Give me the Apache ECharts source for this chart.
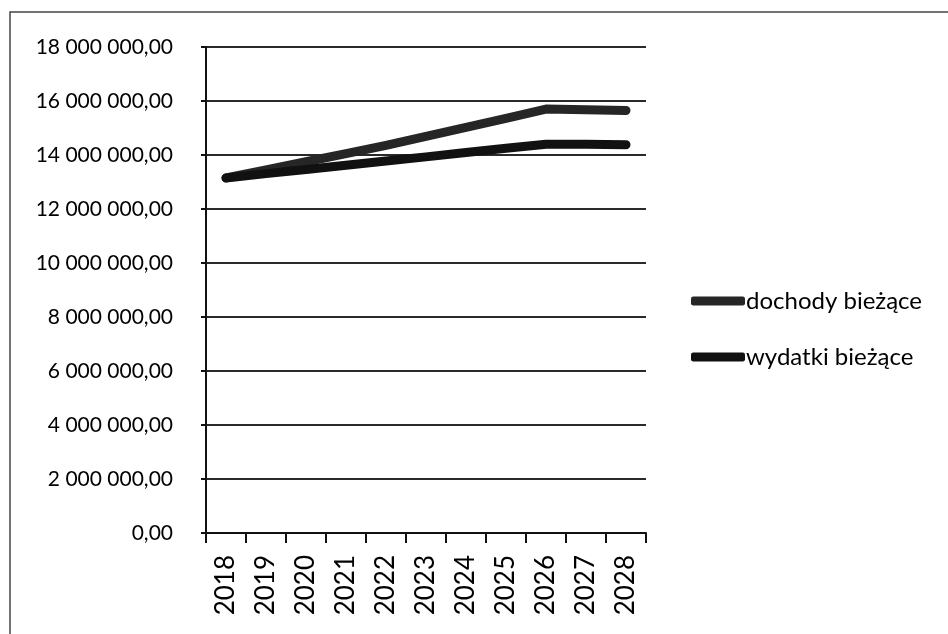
<!DOCTYPE html>
<html>
<head>
<meta charset="utf-8">
<script src="https://cdn.jsdelivr.net/npm/echarts@6/dist/echarts.min.js"></script>
<style>
  html, body { margin: 0; padding: 0; background: #fff; }
  #chart { width: 948px; height: 634px; }
</style>
</head>
<body>
<div id="chart"></div>
<script>
// Lata budżetowe
const years = ['2018', '2019', '2020', '2021', '2022', '2023', '2024', '2025', '2026', '2027', '2028'];

// Dochody bieżące (zł)
const dochody = [13150000, 13450000, 13750000, 14050000, 14360000, 14690000, 15020000, 15360000, 15700000, 15680000, 15650000];

// Wydatki bieżące (zł)
const wydatki = [13150000, 13310000, 13460000, 13620000, 13780000, 13930000, 14090000, 14250000, 14400000, 14400000, 14380000];

// Oś wartości
const yMin = 0;
const yMax = 18000000;
const yStep = 2000000;

const seriesNames = ['dochody bieżące', 'wydatki bieżące'];

const FONT = 'Lato';

// "18 000 000,00" — spacja jako separator tysięcy, przecinek dziesiętny
function formatPL(v) {
  const parts = Number(v).toFixed(2).split('.');
  const intPart = parts[0].replace(/\B(?=(\d{3})+(?!\d))/g, ' ');
  return intPart + ',' + parts[1];
}

const chart = echarts.init(document.getElementById('chart'), null, { renderer: 'canvas' });

chart.setOption({
  backgroundColor: '#ffffff',
  animation: false,
  textStyle: { fontFamily: FONT, color: '#000' },
  grid: { left: 206, right: 302, top: 47, bottom: 101, containLabel: false },
  graphic: [
    {
      type: 'polyline',
      shape: { points: [[10, 634], [10, 12], [948, 12]] },
      style: { stroke: '#444', lineWidth: 1.5, fill: null }
    }
  ],
  legend: {
    orient: 'vertical',
    left: 686,
    top: 284,
    itemWidth: 54,
    itemHeight: 9,
    itemGap: 32,
    icon: 'roundRect',
    textStyle: { fontFamily: FONT, fontSize: 24, color: '#000', padding: [0, 0, 0, -4] },
    data: seriesNames
  },
  xAxis: {
    type: 'category',
    data: years,
    boundaryGap: true,
    axisLine: { show: true, lineStyle: { color: '#111', width: 2 } },
    axisTick: { show: true, length: 10, alignWithLabel: false, lineStyle: { color: '#111', width: 2 } },
    axisLabel: { rotate: 90, margin: 22, fontFamily: FONT, fontSize: 26, color: '#000', interval: 0 },
    splitLine: { show: false }
  },
  yAxis: {
    type: 'value',
    min: yMin,
    max: yMax,
    interval: yStep,
    axisLine: { show: true, lineStyle: { color: '#111', width: 2 } },
    axisTick: { show: true, length: 5, lineStyle: { color: '#111', width: 2 } },
    axisLabel: { margin: 33, fontFamily: FONT, fontSize: 21, color: '#000', formatter: formatPL },
    splitLine: { show: true, lineStyle: { color: '#2a2a2a', width: 2 } }
  },
  series: [
    {
      name: seriesNames[0],
      type: 'line',
      data: dochody,
      showSymbol: false,
      symbol: 'none',
      color: '#262626',
      lineStyle: { width: 9, color: '#262626', cap: 'round', join: 'round' },
      z: 3
    },
    {
      name: seriesNames[1],
      type: 'line',
      data: wydatki,
      showSymbol: false,
      symbol: 'none',
      color: '#111111',
      lineStyle: { width: 9, color: '#111111', cap: 'round', join: 'round' },
      z: 4
    }
  ]
});
</script>
</body>
</html>
